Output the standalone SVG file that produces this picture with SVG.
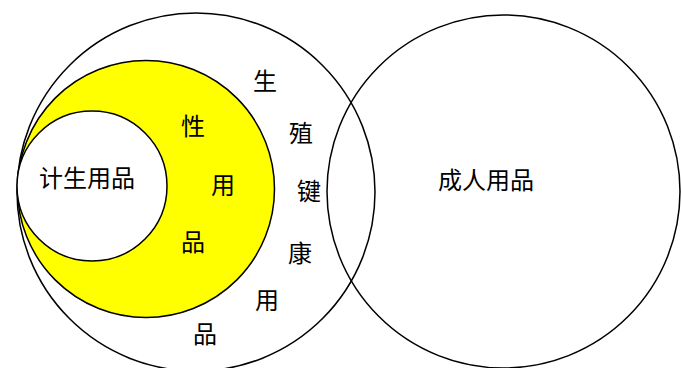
<svg xmlns="http://www.w3.org/2000/svg" width="681" height="368" viewBox="0 0 681 368">
<style>
.c{stroke:#000;stroke-width:1.5;}
.t{font-family:"Noto Sans CJK SC","Noto Sans CJK JP",sans-serif;font-size:24px;fill:#000;text-anchor:middle;dominant-baseline:central;}
</style>
<rect width="681" height="368" fill="#fff"/>
<g id="reproductive-health">
<circle class="c" cx="196" cy="192" r="179" fill="none"/>
<text class="t" x="265" y="79">生</text>
<text class="t" x="301" y="131">殖</text>
<text class="t" x="309" y="189">键</text>
<text class="t" x="300" y="251">康</text>
<text class="t" x="267" y="298">用</text>
<text class="t" x="205" y="332">品</text>
</g>
<g id="adult-products">
<circle class="c" cx="503.5" cy="191.5" r="176.5" fill="none"/>
<text class="t" x="486" y="178">成人用品</text>
</g>
<g id="sex-products">
<circle class="c" cx="146" cy="189" r="128.5" fill="#ffff00"/>
<text class="t" x="193" y="124">性</text>
<text class="t" x="223" y="183">用</text>
<text class="t" x="193" y="240">品</text>
</g>
<g id="family-planning">
<circle class="c" cx="92" cy="186" r="75" fill="#fff"/>
<text class="t" x="87" y="176">计生用品</text>
</g>
<g id="connectors"/>
</svg>
